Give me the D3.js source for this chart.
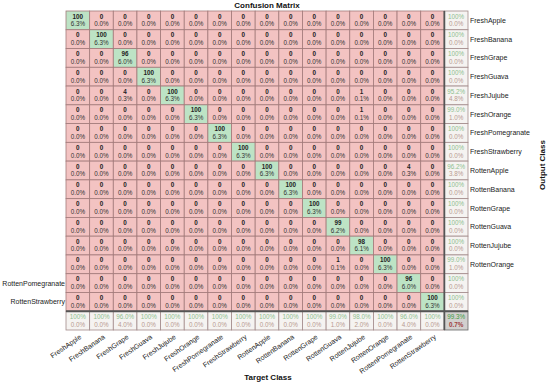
<!DOCTYPE html>
<html><head><meta charset="utf-8">
<script src="https://cdn.jsdelivr.net/npm/d3@7"></script>
<style>body{margin:0;background:#fff}svg{display:block}text{font-family:"Liberation Sans",Arial,sans-serif}</style>
</head><body>
<svg id="c" width="550" height="385"></svg>
<script>
const classes = ["FreshApple","FreshBanana","FreshGrape","FreshGuava","FreshJujube","FreshOrange","FreshPomegranate","FreshStrawberry","RottenApple","RottenBanana","RottenGrape","RottenGuava","RottenJujube","RottenOrange","RottenPomegranate","RottenStrawberry"];
// rows = output class, columns = target class
const counts = [
 [100,0,0,0,0,0,0,0,0,0,0,0,0,0,0,0],
 [0,100,0,0,0,0,0,0,0,0,0,0,0,0,0,0],
 [0,0,96,0,0,0,0,0,0,0,0,0,0,0,0,0],
 [0,0,0,100,0,0,0,0,0,0,0,0,0,0,0,0],
 [0,0,4,0,100,0,0,0,0,0,0,0,1,0,0,0],
 [0,0,0,0,0,100,0,0,0,0,0,0,1,0,0,0],
 [0,0,0,0,0,0,100,0,0,0,0,0,0,0,0,0],
 [0,0,0,0,0,0,0,100,0,0,0,0,0,0,0,0],
 [0,0,0,0,0,0,0,0,100,0,0,0,0,0,4,0],
 [0,0,0,0,0,0,0,0,0,100,0,0,0,0,0,0],
 [0,0,0,0,0,0,0,0,0,0,100,0,0,0,0,0],
 [0,0,0,0,0,0,0,0,0,0,0,99,0,0,0,0],
 [0,0,0,0,0,0,0,0,0,0,0,0,98,0,0,0],
 [0,0,0,0,0,0,0,0,0,0,0,1,0,100,0,0],
 [0,0,0,0,0,0,0,0,0,0,0,0,0,0,96,0],
 [0,0,0,0,0,0,0,0,0,0,0,0,0,0,0,100]
];
const leftLabelRows = ["RottenPomegranate","RottenStrawberry"];

const n = classes.length;
const svg = d3.select("#c");
const idx = d3.range(n + 1);
const x = d3.scaleBand().domain(idx).range([66, 468]);
const y = d3.scaleBand().domain(idx).range([11, 330]);
const total = d3.sum(counts.flat());
const pct = v => (v * 100 / total).toFixed(1) + "%";
const fmtP = v => (Math.abs(v - 100) < 1e-9 ? "100%" : v.toFixed(1) + "%");

const cells = [];
counts.forEach((row, r) => row.forEach((v, c) => cells.push({r, c, v})));

const g = svg.append("g");
// main cells
g.selectAll("rect.cell").data(cells).join("rect")
  .attr("x", d => x(d.c)).attr("y", d => y(d.r))
  .attr("width", x.bandwidth()).attr("height", y.bandwidth())
  .attr("fill", d => d.r === d.c ? "#bde3c5" : "#f3c3c2")
  .attr("stroke", "#a27a7a").attr("stroke-width", 0.8);

g.selectAll("text.cnt").data(cells).join("text")
  .attr("x", d => x(d.c) + x.bandwidth() / 2).attr("y", d => y(d.r) + 7.5)
  .attr("text-anchor", "middle").attr("font-size", 6.3).attr("font-weight", "bold")
  .attr("fill", "#222").text(d => d.v);
g.selectAll("text.pc").data(cells).join("text")
  .attr("x", d => x(d.c) + x.bandwidth() / 2).attr("y", d => y(d.r) + 15.3)
  .attr("text-anchor", "middle").attr("font-size", 6.3)
  .attr("fill", "#333").text(d => pct(d.v));

// summary column (per output class)
const rowSum = counts.map(r => d3.sum(r));
const colSum = d3.range(n).map(c => d3.sum(counts, r => r[c]));
const rowAcc = counts.map((r, i) => rowSum[i] ? r[i] * 100 / rowSum[i] : 0);
const colAcc = d3.range(n).map(c => colSum[c] ? counts[c][c] * 100 / colSum[c] : 0);
const overall = d3.sum(d3.range(n), i => counts[i][i]) * 100 / total;

const summ = [];
rowAcc.forEach((a, i) => summ.push({r: i, c: n, a}));
colAcc.forEach((a, i) => summ.push({r: n, c: i, a}));
g.selectAll("rect.sum").data(summ).join("rect")
  .attr("x", d => x(d.c)).attr("y", d => y(d.r))
  .attr("width", x.bandwidth()).attr("height", y.bandwidth())
  .attr("fill", "#f5f3f1").attr("stroke", "#a28a8a").attr("stroke-width", 0.8);
g.selectAll("text.s1").data(summ).join("text")
  .attr("x", d => x(d.c) + x.bandwidth() / 2).attr("y", d => y(d.r) + 7.5)
  .attr("text-anchor", "middle").attr("font-size", 6.3)
  .attr("fill", "#8fbf8f").text(d => fmtP(d.a));
g.selectAll("text.s2").data(summ).join("text")
  .attr("x", d => x(d.c) + x.bandwidth() / 2).attr("y", d => y(d.r) + 15.3)
  .attr("text-anchor", "middle").attr("font-size", 6.3)
  .attr("fill", "#b89a90").text(d => fmtP(100 - d.a));

// overall cell
g.append("rect").attr("x", x(n)).attr("y", y(n)).attr("width", x.bandwidth()).attr("height", y.bandwidth())
  .attr("fill", "#d2d0ce").attr("stroke", "#666").attr("stroke-width", 0.8);
g.append("text").attr("x", x(n) + x.bandwidth() / 2).attr("y", y(n) + 7.5).attr("text-anchor", "middle")
  .attr("font-size", 6.3).attr("fill", "#3e9a3e").text(fmtP(overall));
g.append("text").attr("x", x(n) + x.bandwidth() / 2).attr("y", y(n) + 15.3).attr("text-anchor", "middle")
  .attr("font-size", 6.3).attr("font-weight", "bold").attr("fill", "#a04040").text(fmtP(100 - overall));

// thick separators
g.append("line").attr("x1", x(n)).attr("x2", x(n)).attr("y1", y(0)).attr("y2", y(n) + y.bandwidth())
  .attr("stroke", "#555").attr("stroke-width", 1.8);
g.append("line").attr("x1", x(0)).attr("x2", x(n) + x.bandwidth()).attr("y1", y(n)).attr("y2", y(n))
  .attr("stroke", "#555").attr("stroke-width", 1.8);

// row labels
g.selectAll("text.rl").data(classes).join("text")
  .attr("x", d => leftLabelRows.includes(d) ? x(0) - 1 : x(n) + x.bandwidth() + 2)
  .attr("y", (d, i) => y(i) + y.bandwidth() / 2 + 2.5)
  .attr("text-anchor", d => leftLabelRows.includes(d) ? "end" : "start")
  .attr("font-size", 7).attr("fill", "#222").text(d => d);

// column labels
g.selectAll("text.cl").data(classes).join("text")
  .attr("transform", (d, i) => `translate(${x(i) + x.bandwidth() / 2 + 4},${y(n) + y.bandwidth() + 8}) rotate(-35)`)
  .attr("text-anchor", "end").attr("font-size", 7).attr("fill", "#222").text(d => d);

// titles
svg.append("text").attr("x", 267).attr("y", 8).attr("text-anchor", "middle")
  .attr("font-size", 8).attr("font-weight", "bold").attr("fill", "#111").text("Confusion Matrix");
svg.append("text").attr("x", 268).attr("y", 380).attr("text-anchor", "middle")
  .attr("font-size", 8).attr("font-weight", "bold").attr("fill", "#111").text("Target Class");
svg.append("text").attr("transform", "translate(545,165) rotate(-90)").attr("text-anchor", "middle")
  .attr("font-size", 8).attr("font-weight", "bold").attr("fill", "#111").text("Output Class");
</script>
</body></html>
